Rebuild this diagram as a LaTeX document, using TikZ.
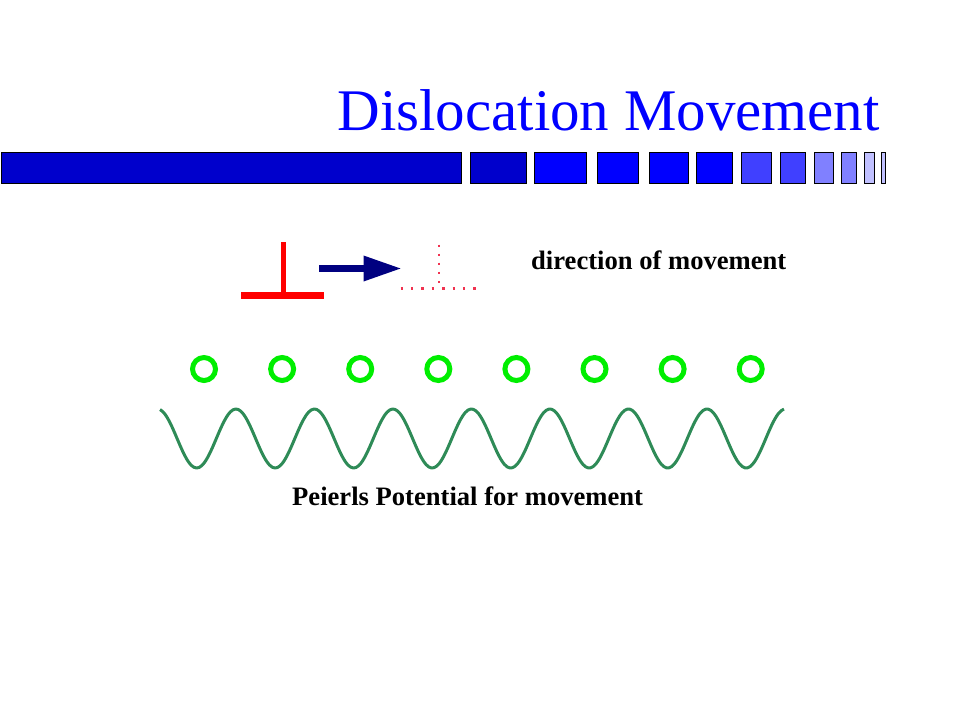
\documentclass[tikz,border=0pt]{standalone}
\usepackage{fontspec}
\setmainfont{Liberation Serif}
\usetikzlibrary{arrows.meta,positioning}

\definecolor{titleblue}{RGB}{0,0,255}
\definecolor{bardark}{RGB}{0,0,204}
\definecolor{barfull}{RGB}{0,0,255}
\definecolor{barmid}{RGB}{64,64,255}
\definecolor{barlight}{RGB}{128,128,255}
\definecolor{barpale}{RGB}{192,192,255}
\definecolor{arrownavy}{RGB}{0,0,128}
\definecolor{atomgreen}{RGB}{0,238,0}
\definecolor{wavegreen}{RGB}{46,139,87}
\definecolor{dotred}{RGB}{240,50,80}

\tikzset{
  bar/.style={draw=black, line width=0.9pt},
  atom/.style={circle, draw=atomgreen, line width=5pt, minimum size=23pt, inner sep=0pt},
  wave/.style={draw=wavegreen, line width=3pt, line join=round},
  label/.style={inner sep=0pt, font=\fontsize{26.6}{30}\selectfont\bfseries},
  dotline/.style={draw=dotred, line width=2.5pt}
}

\begin{document}
\begin{tikzpicture}[x=1pt, y=-1pt, >={Triangle[length=38pt,width=24pt]}]
        \useasboundingbox (0,0) rectangle (960,720);

        \node (title) [anchor=base east, inner sep=0pt, text=titleblue,
            font=\fontsize{59}{70}\selectfont] at (880,130) {Dislocation Movement};

        % bars under the title
        \foreach \xa/\xb/\col in {1/461/bardark, 470/526/bardark, 534/586/barfull,
            597/638/barfull, 649/688/barfull, 696/732/barfull, 741/771/barmid,
            780/805/barmid, 814/833/barlight, 841/856/barlight, 864/874/barpale,
            881/885/barpale}
            \filldraw[bar, fill=\col] (\xa,152) rectangle (\xb,183);

        % dislocation and its next place
        \draw[red, line width=5pt] (283,242) -- (283,292);
        \draw[red, line width=7pt] (241,295) -- (324,295);
        \draw[dotline, dash pattern=on 2.5pt off 6.6pt] (439,244.5) -- (439,284);
        \draw[dotline, dash pattern=on 2.5pt off 7.9pt] (400.5,288.3) -- (477,288.3);

        \coordinate (tail) at (319,268.5);
        \coordinate (tip) at (401.5,268.5);
        \draw[->, arrownavy, line width=6.5pt] (tail) -- (tip);

        \node (direction) [label, anchor=base west] at (531,269.5) {direction of movement};

        % atoms
        \foreach \i in {0,...,7}
            \node (atom\i) [atom] at ({204+78.1*\i},369) {};

        \draw[wave] plot[domain=160:784, samples=240, smooth]
            (\x, {438.5+29.5*cos(4.586*(\x-196.7))});

        \node (peierls) [label, anchor=base west] at (292,505.5) {Peierls Potential for movement};

        \end{tikzpicture}
\end{document}
